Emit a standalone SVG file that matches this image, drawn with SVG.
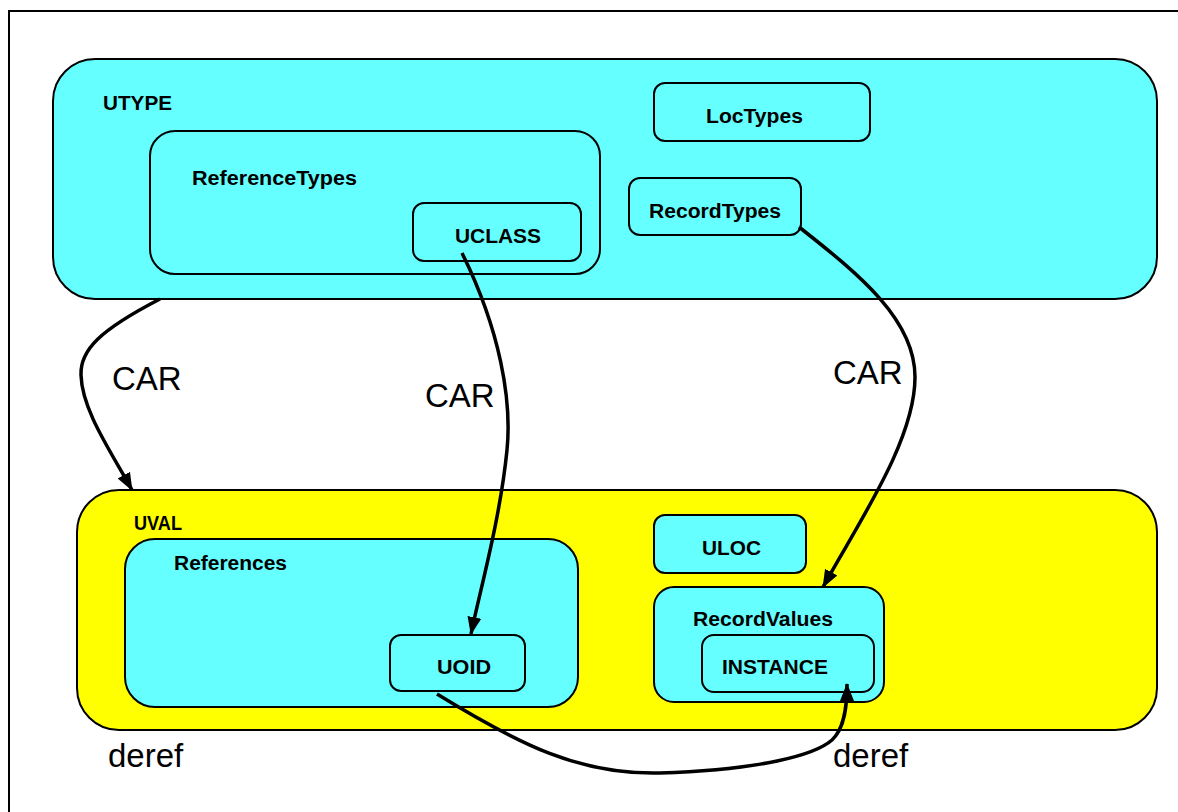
<svg xmlns="http://www.w3.org/2000/svg" width="1178" height="812" viewBox="0 0 1178 812">
<defs>
<style>
.cy{fill:#66ffff;stroke:#000;stroke-width:2}
.ye{fill:#ffff00;stroke:#000;stroke-width:2}
.lb{font-family:"Liberation Sans",Arial,sans-serif;font-weight:bold;font-size:20px;fill:#000}
.el{font-family:"Liberation Sans",Arial,sans-serif;font-size:33px;fill:#000}
.cn{fill:none;stroke:#000;stroke-width:3.5}
</style>
<marker id="ah" markerUnits="userSpaceOnUse" markerWidth="20" markerHeight="16" refX="17" refY="7" orient="auto" viewBox="0 0 20 14">
<path d="M0,0 L18,7 L0,14 Z" fill="#000"/>
</marker>
</defs>
<rect x="0" y="0" width="1178" height="812" fill="#fff"/>
<rect x="9" y="11" width="1200" height="900" fill="#fff" stroke="#000" stroke-width="2"/>

<g id="UTYPE">
<rect class="cy" x="53" y="59" width="1104" height="240" rx="42"/>
<text class="lb" x="103" y="110" textLength="69" lengthAdjust="spacingAndGlyphs">UTYPE</text>
</g>
<g id="ReferenceTypes">
<rect class="cy" x="150" y="131" width="450" height="143" rx="25"/>
<text class="lb" x="192" y="185" textLength="165" lengthAdjust="spacingAndGlyphs">ReferenceTypes</text>
</g>
<g id="UCLASS">
<rect class="cy" x="413" y="203" width="168" height="58" rx="11"/>
<text class="lb" x="455" y="243" textLength="86" lengthAdjust="spacingAndGlyphs">UCLASS</text>
</g>
<g id="LocTypes">
<rect class="cy" x="654" y="83" width="216" height="58" rx="11"/>
<text class="lb" x="706" y="123" textLength="97" lengthAdjust="spacingAndGlyphs">LocTypes</text>
</g>
<g id="RecordTypes">
<rect class="cy" x="629" y="178" width="172" height="57" rx="11"/>
<text class="lb" x="649" y="218" textLength="132" lengthAdjust="spacingAndGlyphs">RecordTypes</text>
</g>

<g id="UVAL">
<rect class="ye" x="77" y="490" width="1080" height="240" rx="42"/>
<text class="lb" x="134" y="530" textLength="48" lengthAdjust="spacingAndGlyphs">UVAL</text>
</g>
<g id="References">
<rect class="cy" x="125" y="539" width="453" height="168" rx="30"/>
<text class="lb" x="174" y="570" textLength="113" lengthAdjust="spacingAndGlyphs">References</text>
</g>
<g id="UOID">
<rect class="cy" x="390" y="635" width="135" height="56" rx="11"/>
<text class="lb" x="437" y="674" textLength="54" lengthAdjust="spacingAndGlyphs">UOID</text>
</g>
<g id="ULOC">
<rect class="cy" x="654" y="515" width="152" height="58" rx="11"/>
<text class="lb" x="702" y="555" textLength="59" lengthAdjust="spacingAndGlyphs">ULOC</text>
</g>
<g id="RecordValues">
<rect class="cy" x="654" y="587" width="230" height="115" rx="20"/>
<text class="lb" x="693" y="626" textLength="140" lengthAdjust="spacingAndGlyphs">RecordValues</text>
</g>
<g id="INSTANCE">
<rect class="cy" x="702" y="635" width="172" height="57" rx="12"/>
<text class="lb" x="722" y="674" textLength="106" lengthAdjust="spacingAndGlyphs">INSTANCE</text>
</g>

<g id="connectors">
<path class="cn" d="M160,299 C 100,330 80,350 81,375 C 82,410 110,450 132,490" marker-end="url(#ah)"/>
<path class="cn" d="M462,253 C 500,330 512,400 507,450 C 500,520 480,590 471,634" marker-end="url(#ah)"/>
<path class="cn" d="M799,227 C 860,275 915,320 915,377 C 915,440 860,520 823,587" marker-end="url(#ah)"/>
<path class="cn" d="M437,694 C 520,745 580,775 660,773 C 760,770 815,755 832,740 C 845,728 847,705 847,684" marker-end="url(#ah)"/>
</g>

<g id="edge-labels">
<text class="el" x="112" y="390">CAR</text>
<text class="el" x="425" y="407">CAR</text>
<text class="el" x="833" y="384">CAR</text>
<text class="el" x="108" y="767">deref</text>
<text class="el" x="833" y="767">deref</text>
</g>
</svg>
